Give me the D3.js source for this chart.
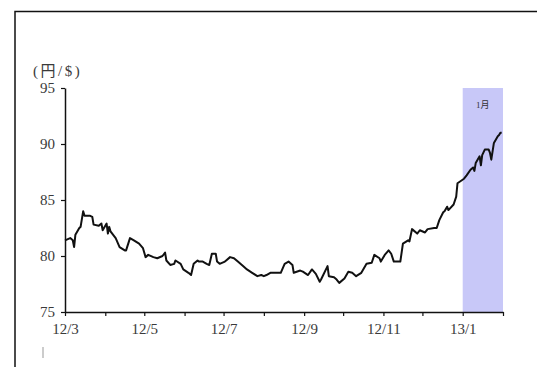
<!DOCTYPE html>
<html>
<head>
<meta charset="utf-8">
<script src="https://cdn.jsdelivr.net/npm/d3@7"></script>
<style>
  body { margin: 0; background: white; }
  svg { display: block; }
</style>
</head>
<body>
<main></main>
<script>
// Yen per dollar
var dates = [
  "2012-03-01","2012-03-05","2012-03-07","2012-03-08","2012-03-09","2012-03-12","2012-03-13","2012-03-15",
  "2012-03-16","2012-03-20","2012-03-22","2012-03-23","2012-03-27","2012-03-29","2012-03-30","2012-04-02",
  "2012-04-03","2012-04-04","2012-04-05","2012-04-09","2012-04-12","2012-04-16","2012-04-17","2012-04-20",
  "2012-04-23","2012-04-27","2012-04-30","2012-05-02","2012-05-04","2012-05-08","2012-05-11","2012-05-15",
  "2012-05-17","2012-05-18","2012-05-21","2012-05-24","2012-05-25","2012-05-29","2012-05-31","2012-06-04",
  "2012-06-06","2012-06-08","2012-06-11","2012-06-12","2012-06-15","2012-06-18","2012-06-20","2012-06-22",
  "2012-06-25","2012-06-26","2012-06-28","2012-07-02","2012-07-03","2012-07-06","2012-07-09","2012-07-12",
  "2012-07-16","2012-07-19","2012-07-23","2012-07-27","2012-07-30","2012-08-01","2012-08-03","2012-08-06",
  "2012-08-10","2012-08-14","2012-08-17","2012-08-20","2012-08-23","2012-08-24","2012-08-29","2012-08-31",
  "2012-09-04","2012-09-07","2012-09-10","2012-09-13","2012-09-14","2012-09-19","2012-09-20","2012-09-24",
  "2012-09-26","2012-09-28","2012-10-02","2012-10-05","2012-10-08","2012-10-11","2012-10-15","2012-10-16",
  "2012-10-18","2012-10-19","2012-10-23","2012-10-25","2012-10-29","2012-10-30","2012-11-02","2012-11-05",
  "2012-11-07","2012-11-09","2012-11-14","2012-11-16","2012-11-20","2012-11-21","2012-11-23","2012-11-27",
  "2012-11-29","2012-12-03","2012-12-05","2012-12-10","2012-12-12","2012-12-14","2012-12-17","2012-12-18",
  "2012-12-20","2012-12-21","2012-12-25","2012-12-27","2012-12-28","2013-01-02","2013-01-04","2013-01-07",
  "2013-01-09","2013-01-10","2013-01-11","2013-01-14","2013-01-15","2013-01-16","2013-01-18","2013-01-21",
  "2013-01-22","2013-01-23","2013-01-25","2013-01-28","2013-01-29","2013-01-30","2013-01-31"
];
var rates = [
  81.4, 81.6, 81.4, 80.8, 81.9, 82.5, 82.6, 84.0,
  83.6, 83.6, 83.5, 82.8, 82.7, 82.9, 82.3, 82.9,
  82.0, 82.6, 82.2, 81.6, 80.8, 80.5, 80.5, 81.6,
  81.4, 81.1, 80.7, 79.9, 80.1, 79.9, 79.8, 80.0,
  80.3, 79.6, 79.2, 79.3, 79.6, 79.3, 78.8, 78.5,
  78.3, 79.3, 79.6, 79.5, 79.5, 79.3, 79.2, 80.2,
  80.2, 79.5, 79.3, 79.5, 79.6, 79.9, 79.8, 79.5,
  79.1, 78.8, 78.5, 78.2, 78.3, 78.2, 78.3, 78.5,
  78.5, 78.5, 79.3, 79.5, 79.2, 78.5, 78.7, 78.6,
  78.3, 78.8, 78.4, 77.7, 77.9, 79.1, 78.2, 78.1,
  77.9, 77.6, 78.0, 78.6, 78.5, 78.2, 78.5, 78.7,
  79.1, 79.3, 79.4, 80.1, 79.8, 79.5, 80.1, 80.5,
  80.2, 79.5, 79.5, 81.1, 81.4, 81.3, 82.4, 82.0,
  82.3, 82.1, 82.4, 82.5, 82.5, 83.2, 83.9, 84.0,
  84.4, 84.1, 84.6, 85.3, 86.5, 86.9, 87.2, 87.7,
  87.9, 87.6, 88.3, 88.9, 88.1, 89.0, 89.5, 89.5,
  89.2, 88.6, 90.1, 90.7, 90.8, 91.0, 91.0
];

var yTicks = [75, 80, 85, 90, 95];
var xTickLabels = ["12/3", "", "12/5", "", "12/7", "", "12/9", "", "12/11", "", "13/1", ""];
var xDomain = ["2012-03-01", "2013-02-01"];
var band = ["2013-01-01", "2013-02-01"];
var bandLabel = "1月";
var unitLabel = "(円/$)";

var WIDTH = 537;
var HEIGHT = 367;
var SERIF = "'Liberation Serif', 'Noto Sans CJK JP', serif";

function drawChart () {
    var parse = d3.timeParse("%Y-%m-%d");
    var points = dates.map(function (d, i) { return { date: parse(d), value: rates[i] }; });

    var svg = d3.select("main").append("svg")
                               .attr("width", WIDTH)
                               .attr("height", HEIGHT);

    // outer frame (only top and left edges show in the crop)
    svg.append("path")
       .attr("d", "M15,367 V11.5 H537")
       .attr("fill", "none")
       .attr("stroke", "#111")
       .attr("stroke-width", 1.5);

    var x = d3.scaleTime()
              .domain(xDomain.map(parse))
              .range([65, 503]);
    var y = d3.scaleLinear()
              .domain([75, 95])
              .range([312, 88]);

    // January shading
    svg.append("rect")
       .attr("x", x(parse(band[0])))
       .attr("y", y(95))
       .attr("width", x(parse(band[1])) - x(parse(band[0])))
       .attr("height", y(75) - y(95))
       .attr("fill", "#c8c8f8");

    svg.append("text")
       .attr("x", (x(parse(band[0])) + x(parse(band[1]))) / 2)
       .attr("y", 108)
       .attr("text-anchor", "middle")
       .style("font-family", SERIF)
       .style("font-size", "9px")
       .attr("fill", "#333")
       .text(bandLabel);

    // y axis
    var yAxis = svg.append("g")
                   .attr("transform", "translate(" + x.range()[0] + ",0)")
                   .call(d3.axisLeft(y).tickValues(yTicks).tickSize(4).tickSizeOuter(0).tickPadding(6));

    // x axis
    var months = d3.timeMonth.every(1);
    var xAxis = svg.append("g")
                   .attr("transform", "translate(0," + y.range()[0] + ")")
                   .call(d3.axisBottom(x)
                           .ticks(months)
                           .tickSize(4)
                           .tickSizeOuter(0)
                           .tickPadding(7)
                           .tickFormat(function (d, i) { return xTickLabels[i]; }));

    [yAxis, xAxis].forEach(function (g) {
        g.select(".domain").attr("stroke", "#111").attr("stroke-width", 1.5);
        g.selectAll(".tick line").attr("stroke", "#111").attr("stroke-width", 1.2);
        g.selectAll(".tick text")
         .style("font-family", SERIF)
         .style("font-size", "15px")
         .attr("fill", "#3a3a3a");
    });

    svg.append("text")
       .attr("x", 33)
       .attr("y", 76)
       .style("font-family", SERIF)
       .style("font-size", "15px")
       .style("letter-spacing", "2.5px")
       .attr("fill", "#3a3a3a")
       .text(unitLabel);

    // the rate line
    var line = d3.line()
                 .x(function (d) { return x(d.date); })
                 .y(function (d) { return y(d.value); });

    svg.append("path")
       .datum(points)
       .attr("d", line)
       .attr("fill", "none")
       .attr("stroke", "#111")
       .attr("stroke-width", 2)
       .attr("stroke-linejoin", "round");

    // little mark left at the bottom of the crop
    svg.append("line")
       .attr("x1", 43).attr("x2", 43)
       .attr("y1", 347).attr("y2", 358)
       .attr("stroke", "#999")
       .attr("stroke-width", 1);
}

drawChart();
</script>
</body>
</html>
